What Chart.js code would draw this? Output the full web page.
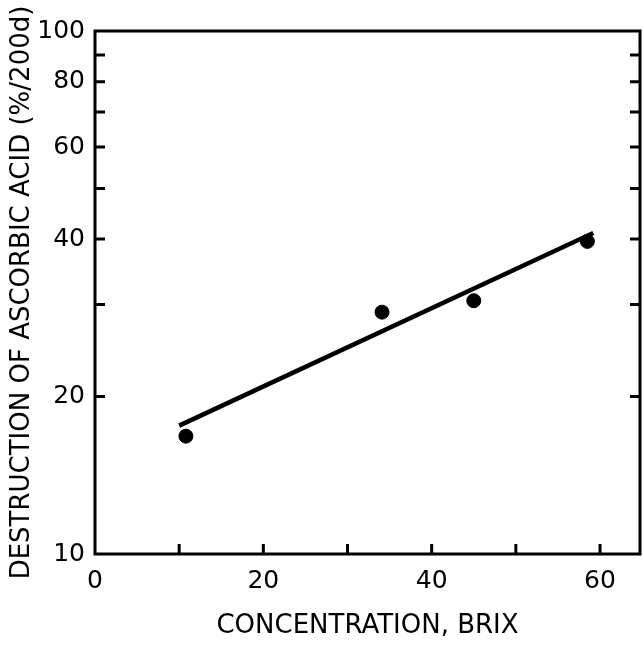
<!DOCTYPE html>
<html>
<head>
<meta charset="utf-8">
<script src="https://cdn.jsdelivr.net/npm/chart.js@4.4.1/dist/chart.umd.min.js"></script>
<style>
  html, body { margin: 0; padding: 0; background: #fff; }
  #wrap { width: 642px; height: 650px; }
</style>
</head>
<body>
<div id="wrap"><canvas id="c" width="642" height="650"></canvas></div>
<script>
// measured points (Brix, % destroyed per 200 d)
const brix = [10.8, 34.1, 45.0, 58.5];
const destruction = [16.8, 29.0, 30.5, 39.6];

// fitted line end points
const fitBrix = [10.0, 59.2];
const fitDestruction = [17.6, 41.1];

const xLabels = [0, 20, 40, 60];
const yLabels = [10, 20, 40, 60, 80, 100];

const ink = '#000';
const font = 'DejaVu Sans';

// frame + inward tick marks
const frame = {
  id: 'frame',
  afterDraw(chart) {
    const { ctx, chartArea: a, scales } = chart;
    ctx.save();
    ctx.strokeStyle = ink;
    ctx.lineWidth = 3;
    ctx.strokeRect(a.left, a.top, a.right - a.left, a.bottom - a.top);
    ctx.beginPath();
    scales.y.ticks.forEach((t) => {
      if (t.value <= 10 || t.value >= 100 || t.value % 10 !== 0) return;
      const py = scales.y.getPixelForValue(t.value);
      ctx.moveTo(a.left, py); ctx.lineTo(a.left + 10, py);
      ctx.moveTo(a.right, py); ctx.lineTo(a.right - 10, py);
    });
    scales.x.ticks.forEach((t) => {
      if (t.value <= 0 || t.value > 60) return;
      const px = scales.x.getPixelForValue(t.value);
      ctx.moveTo(px, a.bottom); ctx.lineTo(px, a.bottom - 10);
    });
    ctx.stroke();
    ctx.restore();
  },
};

new Chart(document.getElementById('c'), {
  type: 'scatter',
  data: {
    datasets: [
      {
        data: brix.map((x, i) => ({ x, y: destruction[i] })),
        backgroundColor: ink,
        borderColor: ink,
        pointRadius: 7,
      },
      {
        data: fitBrix.map((x, i) => ({ x, y: fitDestruction[i] })),
        showLine: true,
        borderColor: ink,
        borderWidth: 4.5,
        pointRadius: 0,
      },
    ],
  },
  options: {
    responsive: false,
    animation: false,
    layout: { autoPadding: false, padding: { top: 31, right: 2, left: 0, bottom: 0 } },
    plugins: { legend: { display: false }, tooltip: { enabled: false } },
    scales: {
      x: {
        type: 'linear',
        min: 0,
        max: 64.75,
        afterFit: (s) => { s.height = 96; s.paddingLeft = 0; s.paddingRight = 0; },
        grid: { display: false, drawTicks: false },
        border: { display: false },
        ticks: {
          stepSize: 10,
          includeBounds: false,
          padding: 12,
          color: ink,
          font: { family: font, size: 25 },
          autoSkip: false,
          maxRotation: 0,
          callback: (v) => (xLabels.includes(v) ? String(v) : ''),
        },
        title: {
          display: true,
          text: 'CONCENTRATION, BRIX',
          color: ink,
          font: { family: font, size: 26 },
          padding: { top: 0, bottom: 8 },
        },
      },
      y: {
        type: 'logarithmic',
        min: 10,
        max: 100,
        afterFit: (s) => { s.width = 95; s.paddingTop = 0; s.paddingBottom = 0; },
        grid: { display: false, drawTicks: false },
        border: { display: false },
        ticks: {
          padding: 10,
          color: ink,
          font: { family: font, size: 25 },
          autoSkip: false,
          callback: (v) => (yLabels.includes(v) ? String(v) : ''),
        },
        title: {
          display: true,
          text: 'DESTRUCTION OF ASCORBIC ACID (%/200d)',
          color: ink,
          font: { family: font, size: 26 },
          padding: { top: 7, bottom: 0 },
        },
      },
    },
  },
  plugins: [frame],
});
</script>
</body>
</html>
